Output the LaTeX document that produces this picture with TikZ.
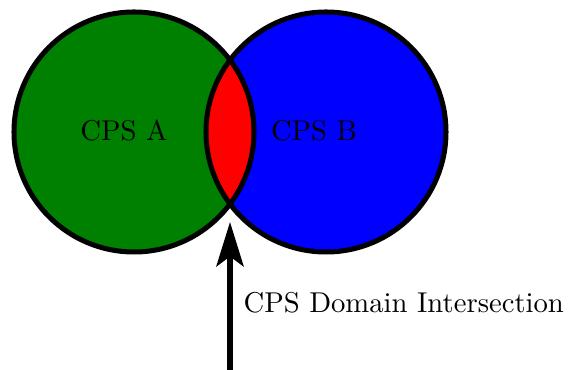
\documentclass[tikz,border=0pt]{standalone}
\usetikzlibrary{arrows.meta}
\definecolor{setA}{RGB}{0,128,0}
\definecolor{setB}{RGB}{0,0,255}
\definecolor{overlap}{RGB}{255,0,0}
\begin{document}
\begin{tikzpicture}[x=0.3489pt,y=-0.3489pt,
  outline/.style={draw=black,line width=1.75pt},
  setlabel/.style={inner sep=0pt,font=\normalsize},
  pointer/.style={line width=1.9pt,-{Stealth[length=15.5pt,width=9.5pt,inset=3.5pt]}}]
  \useasboundingbox (0,0) rectangle (568,370);
  % the two sets
  \coordinate (ca) at (134,132);
  \coordinate (cb) at (326,132);
  \fill[setA] (ca) circle[radius=120];
  \fill[setB] (cb) circle[radius=120];
  % their overlap
  \begin{scope}
    \clip (ca) circle[radius=120];
    \fill[overlap] (cb) circle[radius=120];
  \end{scope}
  \draw[outline] (ca) circle[radius=120];
  \draw[outline] (cb) circle[radius=120];
  \node[setlabel] (la) at (124,131) {CPS A};
  \node[setlabel] (lb) at (314,131) {CPS B};
  % pointer to the overlap
  \coordinate (foot) at (230,372);
  \coordinate (tip) at (230,222);
  \draw[pointer] (foot) -- (tip);
  \node[setlabel,anchor=base west] (li) at (243,313) {CPS Domain Intersection};
\end{tikzpicture}
\end{document}
